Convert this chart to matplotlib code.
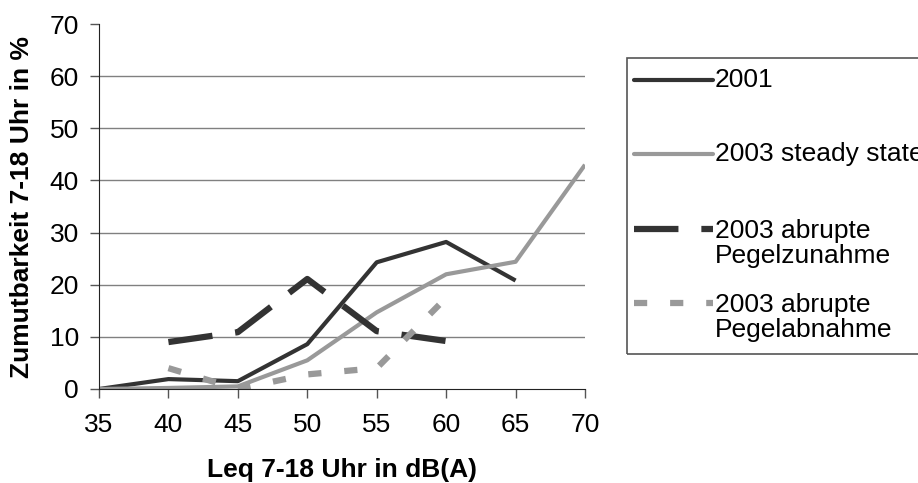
import matplotlib
matplotlib.use('Agg')
import matplotlib.pyplot as plt
from matplotlib.lines import Line2D
from matplotlib.patches import Rectangle

plt.rcParams['font.family'] = ['Liberation Sans', 'DejaVu Sans']
plt.rcParams['lines.scale_dashes'] = False

# Zumutbarkeit je Pegelklasse
x_2001 = [35, 40, 45, 50, 55, 60, 65]
y_2001 = [0, 1.9, 1.5, 8.6, 24.3, 28.2, 20.8]

x_steady = [35, 40, 45, 50, 55, 60, 65, 70]
y_steady = [0, 0.2, 0.5, 5.5, 14.7, 22.0, 24.4, 43.0]

x_zunahme = [40, 45, 50, 55, 60]
y_zunahme = [9.0, 10.9, 21.1, 11.1, 9.2]

x_abnahme = [40, 45, 50, 55, 60]
y_abnahme = [4.0, 0.0, 2.8, 4.0, 17.5]

labels = ['2001', '2003 steady state', '2003 abrupte\nPegelzunahme',
          '2003 abrupte\nPegelabnahme']
xticks = [35, 40, 45, 50, 55, 60, 65, 70]
yticks = [0, 10, 20, 30, 40, 50, 60, 70]

dark = '#333333'
grey = '#999999'
fs = 19
W, H = 918, 483

fig = plt.figure(figsize=(W / 100, H / 100), dpi=100)
ax = fig.add_axes([99 / W, (H - 389) / H, 486 / W, 365 / H])

# gridlines (none at the top)
for t in yticks[1:-1]:
    ax.axhline(t, color='#808080', lw=1, zorder=0)

styles = [
    dict(color=dark, lw=3, solid_capstyle='butt'),
    dict(color=grey, lw=3, solid_capstyle='butt'),
    dict(color=dark, lw=4.5, dashes=(32, 16.5), dash_capstyle='butt'),
    dict(color=grey, lw=4.5, dashes=(9.5, 16.5), dash_capstyle='butt'),
]
series = [(x_2001, y_2001), (x_steady, y_steady),
          (x_zunahme, y_zunahme), (x_abnahme, y_abnahme)]
for (xs, ys), st in zip(series, styles):
    ax.plot(xs, ys, **st)

ax.set_xlim(35, 70)
ax.set_ylim(0, 70)
ax.set_xticks(xticks)
ax.set_yticks(yticks)
ax.tick_params(labelsize=fs, length=6.5, width=1, color='#555555')
ax.tick_params(axis='x', pad=11)
ax.tick_params(axis='y', pad=8)
for s in ['top', 'right']:
    ax.spines[s].set_visible(False)
for s in ['left', 'bottom']:
    ax.spines[s].set_color('#222222')

fig.text(342 / W, 1 - 470 / H, 'Leq 7-18 Uhr in dB(A)', fontsize=fs,
         fontweight='bold', ha='center', va='center')
fig.text(22 / W, 1 - 207 / H, 'Zumutbarkeit 7-18 Uhr in %', fontsize=fs,
         fontweight='bold', ha='center', va='center', rotation=90)

# legend box, running off the right edge
fig.add_artist(Rectangle((627 / W, 1 - 354 / H), (960 - 627) / W, (354 - 58) / H,
                         transform=fig.transFigure, fill=False,
                         edgecolor='#555555', lw=1.2, clip_on=False))
row_y = [80, 154, 229, 303]
text_y = [80, 154, 243.5, 317.5]
for st, ly, ty, lab in zip(styles, row_y, text_y, labels):
    handle = dict(st)
    if 'dashes' not in handle:
        handle['solid_capstyle'] = 'round'
    fig.add_artist(Line2D([634 / W, 713 / W], [1 - ly / H, 1 - ly / H],
                          transform=fig.transFigure, **handle))
    fig.text(715 / W, 1 - ty / H, lab, fontsize=fs, ha='left', va='center',
             linespacing=1.05)

fig.savefig('out.png', dpi=100)
